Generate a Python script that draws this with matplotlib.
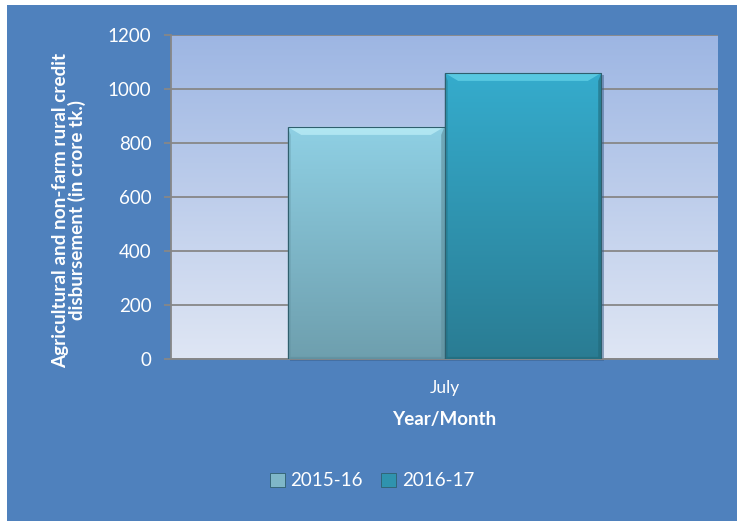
import numpy as np
import matplotlib
matplotlib.use("Agg")
import matplotlib.pyplot as plt
from matplotlib.colors import LinearSegmentedColormap
from matplotlib.patches import Rectangle, Polygon

categories = ["July"]
series_names = ["2015-16", "2016-17"]
values_2015 = [860]
values_2016 = [1060]
y_ticks = [0, 200, 400, 600, 800, 1000, 1200]

plt.rcParams['font.family'] = ['Lato', 'DejaVu Sans']

W, H = 737, 521
fig = plt.figure(figsize=(W / 100, H / 100), dpi=100)
fig.patch.set_facecolor('white')
# blue chart background
fig.patches.append(Rectangle((7 / W, 0), 1 - 7 / W, 1 - 5 / H, transform=fig.transFigure,
                             facecolor='#4F81BD', edgecolor='none', zorder=-10))

ax = fig.add_axes([171 / W, 1 - 359 / H, (718 - 171) / W, (359 - 35) / H])
ax.set_zorder(5)
ax.set_facecolor('none')
ax.set_ylim(0, 1200)
ax.set_xlim(-0.5, 0.5)

# plot area gradient
grad_bg = LinearSegmentedColormap.from_list('bg', ['#DFE6F4', '#9DB6E3'])
ax.imshow(np.linspace(0, 1, 256).reshape(-1, 1), cmap=grad_bg, aspect='auto',
          extent=[-0.5, 0.5, 0, 1200], origin='lower', zorder=0)

for t in y_ticks:
    ax.axhline(t, color='#878787', lw=1.3, zorder=1)

bw = 0.287
x = np.arange(len(categories))
cmaps = [LinearSegmentedColormap.from_list('b1', ['#6E9FAE', '#8FD0E4']),
         LinearSegmentedColormap.from_list('b2', ['#2A7C93', '#35ACCD'])]
tops = ['#C8F6FC', '#70DDF0']
sides = ['#5E8E9C', '#206878']
bev_x = 0.025
bev_y = 30
for i, vals in enumerate([values_2015, values_2016]):
    offs = (i - 0.5) * bw
    for xi, v in zip(x, vals):
        x0 = xi + offs - bw / 2
        x1 = x0 + bw
        # shadow
        ax.add_patch(Rectangle((x0 + 0.004, -8), bw, v, facecolor='#3A5F8A', alpha=0.5,
                               edgecolor='none', zorder=2, clip_on=False))
        im = ax.imshow(np.linspace(0, 1, 256).reshape(-1, 1), cmap=cmaps[i], aspect='auto',
                       extent=[x0, x1, 0, v], origin='lower', zorder=3)
        rect = Rectangle((x0, 0), bw, v, facecolor='none', edgecolor='#2F5F6E', lw=0.8, zorder=5)
        ax.add_patch(rect)
        im.set_clip_path(rect)
        # bevel: top band and side bands
        ax.add_patch(Polygon([(x0, v), (x1, v), (x1 - bev_x, v - bev_y), (x0 + bev_x, v - bev_y)],
                             closed=True, facecolor=tops[i], edgecolor='none', alpha=0.6, zorder=4))
        ax.add_patch(Polygon([(x1, v), (x1, 0), (x1 - 0.006, 6), (x1 - 0.006, v - bev_y)],
                             closed=True, facecolor=sides[i], edgecolor='none', alpha=0.6, zorder=4))
        ax.add_patch(Polygon([(x0, v), (x0, 0), (x0 + 0.006, 6), (x0 + 0.006, v - bev_y)],
                             closed=True, facecolor=sides[i], edgecolor='none', alpha=0.35, zorder=4))
        ax.add_patch(Polygon([(x0, 0), (x1, 0), (x1 - 0.006, 8), (x0 + 0.006, 8)],
                             closed=True, facecolor=sides[i], edgecolor='none', alpha=0.6, zorder=4))

ax.set_xlim(-0.5, 0.5)
ax.set_ylim(0, 1200)
ax.set_xticks(x)
ax.set_xticklabels(categories)
ax.set_yticks(y_ticks)
for s in ['top', 'right']:
    ax.spines[s].set_visible(False)
for s in ['left', 'bottom']:
    ax.spines[s].set_color('#878787')
    ax.spines[s].set_linewidth(1.3)
ax.tick_params(axis='y', colors='#878787', labelcolor='white', labelsize=13.5, length=5, width=1.3, pad=9)
ax.tick_params(axis='x', length=0, labelcolor='white', labelsize=12.5, pad=15)

fig.text(69 / W, 1 - 210 / H, 'Agricultural and non-farm rural credit\ndisbursement (in crore tk.)',
         color='white', fontsize=13.6, fontweight='bold', rotation=90, ha='center', va='center',
         multialignment='center', linespacing=0.95)
ax.set_xlabel('Year/Month', color='white', fontsize=13.5, fontweight='bold', labelpad=11)

handles = [Rectangle((0, 0), 1, 1, facecolor=c, edgecolor='#2F5F6E', lw=0.6) for c in ['#7FB7C8', '#2F93AE']]
leg = fig.legend(handles, series_names, loc='center', bbox_to_anchor=(372 / W, 1 - 481 / H), ncol=2,
                 frameon=False, fontsize=13.5, handlelength=0.8, handleheight=0.8, handletextpad=0.3,
                 columnspacing=1.0)
for t in leg.get_texts():
    t.set_color('white')

fig.savefig('out.png', dpi=100)
